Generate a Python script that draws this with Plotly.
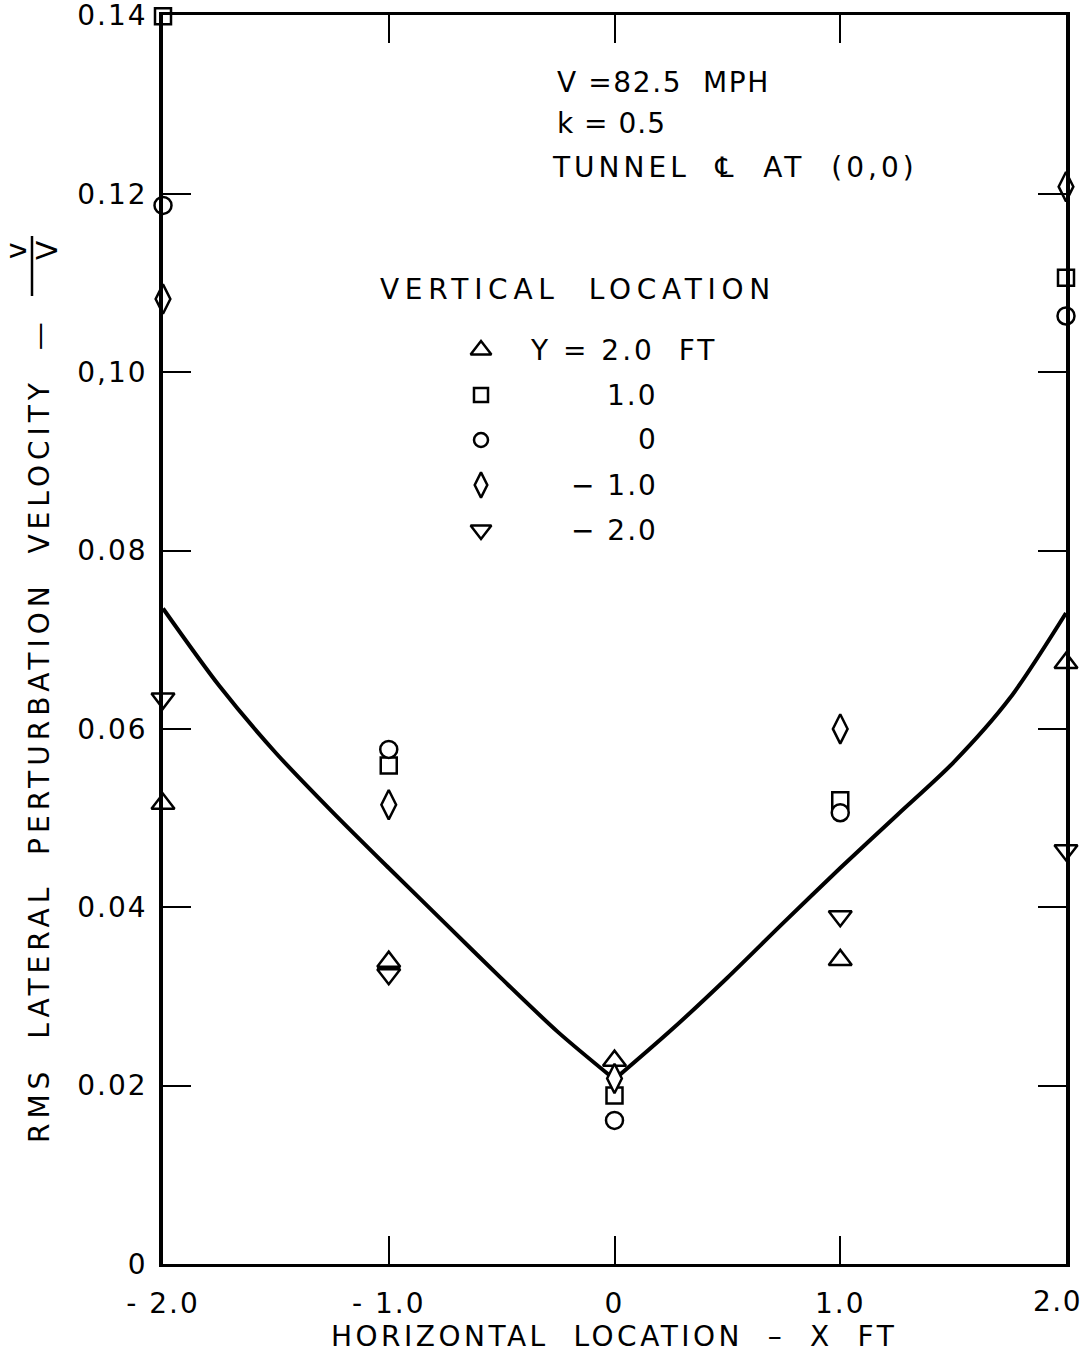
import plotly.graph_objects as go

# ---- measured data -------------------------------------------------------
x_stations = [-2.0, -1.0, 0.0, 1.0, 2.0]          # horizontal location, ft

# rms lateral perturbation velocity v/V at each vertical location
v_y_2ft = [0.0516, 0.0339, 0.0228, 0.0341, 0.0674]
v_y_1ft = [0.1399, 0.0559, 0.0189, 0.0520, 0.1106]
v_y_0ft = [0.1187, 0.0577, 0.0161, 0.0506, 0.1063]
v_y_m1ft = [0.1082, 0.0515, 0.0208, 0.0600, 0.1208]
v_y_m2ft = [0.0634, 0.0325, None, 0.0390, 0.0464]

# faired curve through the data
curve_left_x = [-2.0, -1.75, -1.5, -1.25, -1.0, -0.75, -0.5, -0.25, 0.0]
curve_left_y = [0.0735, 0.0648, 0.0573, 0.0507, 0.0444, 0.0382, 0.0320, 0.0260, 0.0207]
curve_right_x = [0.0, 0.25, 0.5, 0.75, 1.0, 1.25, 1.5, 1.75, 2.0]
curve_right_y = [0.0207, 0.0262, 0.0321, 0.0383, 0.0444, 0.0503, 0.0562, 0.0634, 0.0730]

# axis ticks (the label at x = 2 is set slightly inboard as a note)
x_tick_vals = [-2, -1, 0, 1, 2]
x_tick_text = ["- 2.0", "- 1.0", "0", "1.0", ""]
x_end_label = "2.0"
y_tick_vals = [0, 0.02, 0.04, 0.06, 0.08, 0.10, 0.12, 0.14]
y_tick_text = ["0", "0.02", "0.04", "0.06", "0.08", "0,10", "0.12", "0.14"]

# legend rows
legend_labels = ["Y = 2.0\u00a0\u00a0FT", "1.0", "0", "\u2212 1.0", "\u2212 2.0"]

# ---- styling -------------------------------------------------------------
FONT = "DejaVu Sans"
INK = "black"
W, H = 1090, 1353
PL, PR, PT, PB = 163, 1066, 15, 1264   # plot-area edges in page pixels
FS = 28


def fx(px):
    return (px - PL) / (PR - PL)


def fy(py):
    return (PB - py) / (PB - PT)


def spaced(text, px):
    return '<span style="letter-spacing:%gpx">%s</span>' % (px, text)


series = [
    (v_y_2ft, "triangle-up", 20),
    (v_y_1ft, "square", 16),
    (v_y_0ft, "circle", 17),
    (v_y_m1ft, "diamond-tall", 21),
    (v_y_m2ft, "triangle-down", 20),
]

fig = go.Figure()

for cx, cy in [(curve_left_x, curve_left_y), (curve_right_x, curve_right_y)]:
    fig.add_trace(go.Scatter(x=cx, y=cy, mode="lines",
                             line=dict(color=INK, width=4, shape="spline", smoothing=0.8),
                             cliponaxis=False, showlegend=False, hoverinfo="skip"))

for vals, sym, size in series:
    fig.add_trace(go.Scatter(
        x=x_stations, y=vals, mode="markers",
        marker=dict(symbol=sym, size=size, color="white",
                    line=dict(color=INK, width=2.5)),
        cliponaxis=False, showlegend=False))

# legend keys drawn on a pixel-space overlay axis
key_x = 481
key_y0, key_dy = 350, 45
key_sizes = [18, 14, 14, 18, 18]
for i, (vals, sym, size) in enumerate(series):
    fig.add_trace(go.Scatter(
        x=[key_x], y=[key_y0 + i * key_dy], mode="markers",
        xaxis="x2", yaxis="y2",
        marker=dict(symbol=sym, size=key_sizes[i], color="white",
                    line=dict(color=INK, width=2.5)),
        cliponaxis=False, showlegend=False, hoverinfo="skip"))

annotations = []
txt_font = dict(family=FONT, size=FS, color=INK)

for i, lab in enumerate(legend_labels):
    if i == 0:
        annotations.append(dict(x=fx(528), y=fy(key_y0), xref="paper", yref="paper",
                                text=spaced(lab, 3), showarrow=False, xanchor="left",
                                yanchor="middle", font=txt_font))
    else:
        annotations.append(dict(x=fx(660), y=fy(key_y0 + i * key_dy), xref="paper",
                                yref="paper", text=spaced(lab, 2), showarrow=False,
                                xanchor="right", yanchor="middle", font=txt_font))

annotations.append(dict(x=fx(378), y=fy(289), xref="paper", yref="paper",
                        text=spaced("VERTICAL\u00a0\u00a0LOCATION", 5.7), showarrow=False,
                        xanchor="left", yanchor="middle", font=txt_font))

for txt, py, px, sp in [("V =82.5\u00a0\u00a0MPH", 82, 555, 1.6),
                        ("k = 0.5", 124, 555, 1),
                        ("TUNNEL\u00a0\u00a0\u2104\u00a0\u00a0AT\u00a0\u00a0(0,0)", 167, 550, 4)]:
    annotations.append(dict(x=fx(px), y=fy(py), xref="paper", yref="paper",
                            text=spaced(txt, sp), showarrow=False, xanchor="left",
                            yanchor="middle", font=txt_font))

# x label at the right-hand corner
annotations.append(dict(x=fx(1084), y=fy(1301), xref="paper", yref="paper",
                        text=spaced(x_end_label, 1.5), showarrow=False, xanchor="right",
                        yanchor="middle", font=txt_font))

# axis titles
annotations.append(dict(x=fx(614), y=fy(1336), xref="paper", yref="paper",
                        text=spaced("HORIZONTAL\u00a0\u00a0LOCATION\u00a0\u00a0\u2013\u00a0\u00a0X\u00a0\u00a0FT", 3.5),
                        showarrow=False, xanchor="center", yanchor="middle",
                        font=txt_font))
annotations.append(dict(x=fx(40), y=fy(730), xref="paper", yref="paper",
                        text=spaced("RMS\u00a0\u00a0LATERAL\u00a0\u00a0PERTURBATION\u00a0\u00a0VELOCITY\u00a0\u00a0\u2014", 5),
                        textangle=-90, showarrow=False, xanchor="center",
                        yanchor="middle", font=txt_font))
annotations.append(dict(x=fx(17), y=fy(251), xref="paper", yref="paper", text="v",
                        textangle=-90, showarrow=False, xanchor="center",
                        yanchor="middle", font=txt_font))
annotations.append(dict(x=fx(48), y=fy(251), xref="paper", yref="paper", text="V",
                        textangle=-90, showarrow=False, xanchor="center",
                        yanchor="middle", font=txt_font))

shapes = [dict(type="line", xref="paper", yref="paper",
               x0=fx(32), x1=fx(32), y0=fy(236), y1=fy(296),
               line=dict(color=INK, width=2.5))]

tick_font = dict(family=FONT, size=FS, color=INK)
fig.update_layout(
    width=W, height=H,
    margin=dict(l=PL, r=W - PR, t=PT, b=H - PB, pad=0, autoexpand=False),
    paper_bgcolor="white", plot_bgcolor="white",
    showlegend=False,
    annotations=annotations, shapes=shapes,
    xaxis=dict(range=[-2, 2], tickvals=x_tick_vals,
               ticktext=[spaced(t, 2) for t in x_tick_text],
               ticks="inside", ticklen=28, tickwidth=2, tickcolor=INK,
               showline=True, linewidth=3, linecolor=INK, mirror="ticks",
               showgrid=False, zeroline=False, ticklabelstandoff=12,
               ticklabeloverflow="allow", automargin=False, tickfont=tick_font),
    yaxis=dict(range=[0, 0.14005], tickvals=y_tick_vals,
               ticktext=[spaced(t, 2) for t in y_tick_text],
               ticks="inside", ticklen=28, tickwidth=2, tickcolor=INK,
               showline=True, linewidth=3.5, linecolor=INK, mirror="ticks",
               showgrid=False, zeroline=False, ticklabelstandoff=6,
               ticklabeloverflow="allow", automargin=False, tickfont=tick_font),
    xaxis2=dict(range=[PL, PR], overlaying="x", visible=False, fixedrange=True,
                automargin=False),
    yaxis2=dict(range=[PB, PT], overlaying="y", visible=False, fixedrange=True,
                automargin=False),
)

fig.write_html("out.html")
